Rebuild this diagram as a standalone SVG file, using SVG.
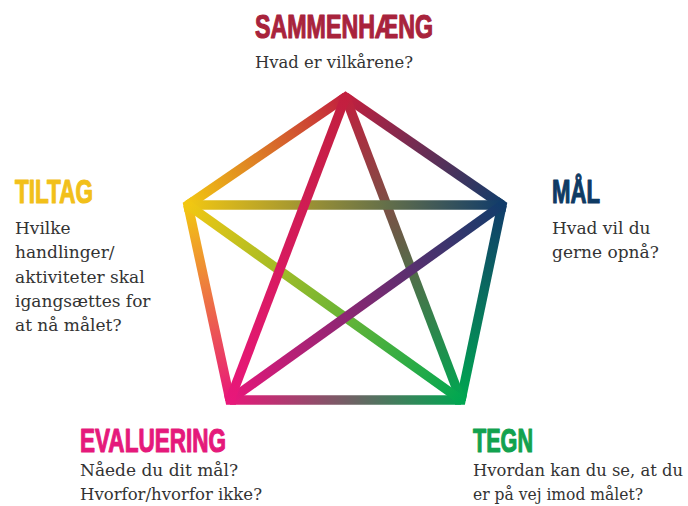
<svg xmlns="http://www.w3.org/2000/svg" width="688" height="506" viewBox="0 0 688 506">
<style>
.t{font-family:"Liberation Sans",Arial,sans-serif;font-weight:bold;font-size:34px;stroke-width:1.2;stroke-linejoin:round}
.b{font-family:"DejaVu Serif","Liberation Serif",serif;font-size:17px;fill:#333}
.l{fill:none;stroke-width:9.5}
</style>
<defs>
<linearGradient id="gTL" gradientUnits="userSpaceOnUse" x1="345.5" y1="97" x2="188" y2="205"><stop offset="0" stop-color="#c21f3e"/><stop offset="1" stop-color="#f2c712"/></linearGradient>
<linearGradient id="gTR" gradientUnits="userSpaceOnUse" x1="345.5" y1="97" x2="502" y2="205"><stop offset="0" stop-color="#c21f3e"/><stop offset="1" stop-color="#113c6a"/></linearGradient>
<linearGradient id="gRBR" gradientUnits="userSpaceOnUse" x1="502" y1="205" x2="461" y2="400"><stop offset="0" stop-color="#113c6a"/><stop offset="1" stop-color="#00a651"/></linearGradient>
<linearGradient id="gBRBL" gradientUnits="userSpaceOnUse" x1="461" y1="400" x2="230" y2="400"><stop offset="0" stop-color="#00a651"/><stop offset="1" stop-color="#e8177a"/></linearGradient>
<linearGradient id="gBLL" gradientUnits="userSpaceOnUse" x1="230" y1="400" x2="188" y2="205"><stop offset="0" stop-color="#e8177a"/><stop offset="1" stop-color="#f2c712"/></linearGradient>
<linearGradient id="gTBL" gradientUnits="userSpaceOnUse" x1="345.5" y1="97" x2="230" y2="400"><stop offset="0" stop-color="#c21f3e"/><stop offset="1" stop-color="#e8177a"/></linearGradient>
<linearGradient id="gTBR" gradientUnits="userSpaceOnUse" x1="345.5" y1="97" x2="461" y2="400"><stop offset="0" stop-color="#c21f3e"/><stop offset="1" stop-color="#00a651"/></linearGradient>
<linearGradient id="gLR" gradientUnits="userSpaceOnUse" x1="188" y1="205" x2="502" y2="205"><stop offset="0" stop-color="#f2c712"/><stop offset="1" stop-color="#113c6a"/></linearGradient>
<linearGradient id="gLBR" gradientUnits="userSpaceOnUse" x1="188" y1="205" x2="461" y2="400"><stop offset="0" stop-color="#f2c712"/><stop offset="1" stop-color="#00a651"/></linearGradient>
<linearGradient id="gRBL" gradientUnits="userSpaceOnUse" x1="502" y1="205" x2="230" y2="400"><stop offset="0" stop-color="#113c6a"/><stop offset="1" stop-color="#e8177a"/></linearGradient>
</defs>
<rect width="688" height="506" fill="#fff"/>
<g id="connectors">
<g stroke-linejoin="miter">
<polyline class="l" points="340,101 345.5,97 351,101" stroke="#c21f3e"/>
<polyline class="l" points="496,201 502,205 500.8,211" stroke="#113c6a"/>
<polyline class="l" points="462.2,394 461,400 455,400" stroke="#00a651"/>
<polyline class="l" points="236,400 230,400 228.8,394" stroke="#e8177a"/>
<polyline class="l" points="189.2,211 188,205 194,201" stroke="#f2c712"/>
</g>
<line class="l" x1="345.5" y1="97" x2="188" y2="205" stroke="url(#gTL)"/>
<line class="l" x1="345.5" y1="97" x2="502" y2="205" stroke="url(#gTR)"/>
<line class="l" x1="502" y1="205" x2="461" y2="400" stroke="url(#gRBR)"/>
<line class="l" x1="461" y1="400" x2="230" y2="400" stroke="url(#gBRBL)"/>
<line class="l" x1="230" y1="400" x2="188" y2="205" stroke="url(#gBLL)"/>
<line class="l" x1="345.5" y1="97" x2="461" y2="400" stroke="url(#gTBR)"/>
<line class="l" x1="188" y1="205" x2="502" y2="205" stroke="url(#gLR)"/>
<line class="l" x1="188" y1="205" x2="461" y2="400" stroke="url(#gLBR)"/>
<line class="l" x1="502" y1="205" x2="230" y2="400" stroke="url(#gRBL)"/>
<line class="l" x1="345.5" y1="97" x2="230" y2="400" stroke="url(#gTBL)"/>
</g>
<g id="sammenhaeng">
<text class="t" x="255" y="38" fill="#a8233c" stroke="#a8233c" textLength="178" lengthAdjust="spacingAndGlyphs">SAMMENHÆNG</text>
<text class="b" x="255" y="68" textLength="158" lengthAdjust="spacingAndGlyphs">Hvad er vilkårene?</text>
</g>
<g id="tiltag">
<text class="t" x="15" y="203" fill="#f2c01a" stroke="#f2c01a" textLength="78" lengthAdjust="spacingAndGlyphs">TILTAG</text>
<text class="b" x="15" y="234">Hvilke</text>
<text class="b" x="15" y="258">handlinger/</text>
<text class="b" x="15" y="283">aktiviteter skal</text>
<text class="b" x="15" y="307">igangsættes for</text>
<text class="b" x="15" y="331">at nå målet?</text>
</g>
<g id="maal">
<text class="t" x="552" y="203" fill="#0f3a63" stroke="#0f3a63" textLength="48" lengthAdjust="spacingAndGlyphs">MÅL</text>
<text class="b" x="552" y="234">Hvad vil du</text>
<text class="b" x="552" y="258">gerne opnå?</text>
</g>
<g id="evaluering">
<text class="t" x="80" y="452" fill="#e5197b" stroke="#e5197b" textLength="146" lengthAdjust="spacingAndGlyphs">EVALUERING</text>
<text class="b" x="80" y="476">Nåede du dit mål?</text>
<text class="b" x="80" y="500" textLength="182" lengthAdjust="spacingAndGlyphs">Hvorfor/hvorfor ikke?</text>
</g>
<g id="tegn">
<text class="t" x="473" y="452" fill="#12a24f" stroke="#12a24f" textLength="60" lengthAdjust="spacingAndGlyphs">TEGN</text>
<text class="b" x="473" y="476" font-size="15.5" textLength="210" lengthAdjust="spacingAndGlyphs">Hvordan kan du se, at du</text>
<text class="b" x="473" y="500" textLength="170" lengthAdjust="spacingAndGlyphs">er på vej imod målet?</text>
</g>
</svg>
